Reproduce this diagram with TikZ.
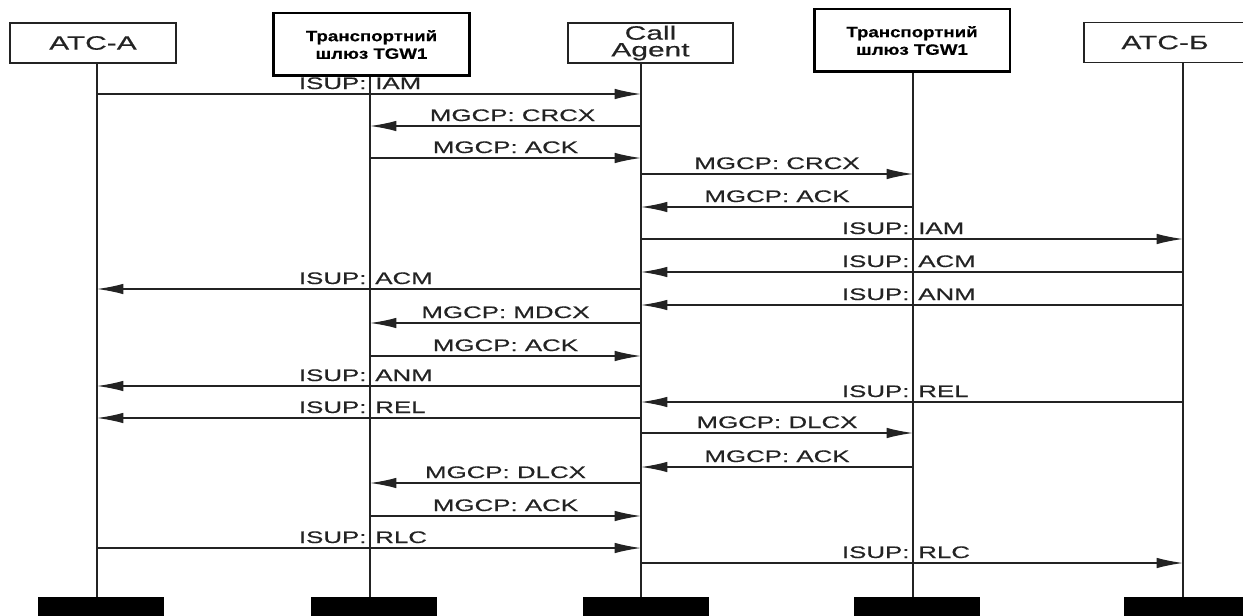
\documentclass[tikz,border=0pt]{standalone}
\usepackage{fontspec}
\setmainfont{Liberation Sans}
\newfontfamily\widefont[FakeStretch=1.55, FakeBold=0.4]{Liberation Sans}
\newfontfamily\gatefont[FakeStretch=1.25, FakeBold=0.6]{Liberation Sans Bold}
\usetikzlibrary{arrows.meta,positioning,calc}
\definecolor{inkgray}{RGB}{35, 35, 35}
\definecolor{barblack}{RGB}{0, 0, 0}

\begin{document}
\begin{tikzpicture}[
  x=0.02cm, y=-0.02cm,
  >={Latex[length=15pt,width=6pt]},
  entity/.style={
    draw=inkgray,
    line width=1.1pt,
    minimum height=0.8cm,
    inner sep=0pt,
    align=center,
    text=inkgray,
    font=\widefont\fontsize{11}{9.5}\selectfont
  },
  gateway/.style={
    draw=barblack,
    line width=1.7pt,
    minimum width=3.92cm,
    minimum height=1.26cm,
    inner sep=0pt,
    align=center,
    font=\gatefont\fontsize{8.5}{10}\selectfont
  },
  lifeline/.style={draw=inkgray, line width=1.1pt},
  msg/.style={->, draw=inkgray, line width=0.85pt},
  msgtext/.style={
    anchor=base,
    yshift=0.1cm,
    inner sep=0pt,
    text=inkgray,
    font=\widefont\fontsize{9.5}{11}\selectfont
  },
  endbar/.style={fill=barblack, minimum width=2.52cm, minimum height=0.4cm, inner sep=0pt}
]

  \useasboundingbox (0,0) rectangle (1243,615);
  \clip (0,0) rectangle (1243,615);

  % Header boxes
  \node[entity, minimum width=3.32cm] (atca) at (93,43) {АТС-А};
  \node[gateway] (tgw1) at (371.5,44.5) {Транспортний\\шлюз TGW1};
  \node[entity, minimum width=3.3cm] (ca) at (650.5,43) {Call\\Agent};
  \node[gateway] (tgw2) at (912,40.5) {Транспортний\\шлюз TGW1};
  \node[entity, minimum width=3.24cm] (atcb) at (1165,42.5) {АТС-Б};

  % Lifeline positions
  \coordinate (la) at (97,0);
  \coordinate (lt1) at (370,0);
  \coordinate (lc) at (641,0);
  \coordinate (lt2) at (913,0);
  \coordinate (lb) at (1183,0);

  % Terminating bars
  \node[endbar] (atcaend) at (101,607) {};
  \node[endbar] (tgw1end) at (374,607) {};
  \node[endbar] (caend) at (646,607) {};
  \node[endbar] (tgw2end) at (917,607) {};
  \node[endbar] (atcbend) at (1187,607) {};

  \draw[lifeline] (la |- atca.south) -- (la |- atcaend.north);
  \draw[lifeline] (lt1 |- tgw1.south) -- (lt1 |- tgw1end.north);
  \draw[lifeline] (lc |- ca.south) -- (lc |- caend.north);
  \draw[lifeline] (lt2 |- tgw2.south) -- (lt2 |- tgw2end.north);
  \draw[lifeline] (lb |- atcb.south) -- (lb |- atcbend.north);

  % Call set-up
  \draw[msg] (la |- 0,94) -- (lc |- 0,94);
  \node[msgtext] (m1) at (lt1 |- 0,94) {\llap{ISUP:\kern2pt}\rlap{\kern3pt IAM}};
  \draw[msg] (lc |- 0,126) -- (lt1 |- 0,126) node[msgtext, midway, xshift=4pt] (m2) {MGCP: CRCX};
  \draw[msg] (lt1 |- 0,158) -- (lc |- 0,158) node[msgtext, midway] (m3) {MGCP: ACK};
  \draw[msg] (lc |- 0,174) -- (lt2 |- 0,174) node[msgtext, midway] (m4) {MGCP: CRCX};
  \draw[msg] (lt2 |- 0,207) -- (lc |- 0,207) node[msgtext, midway] (m5) {MGCP: ACK};
  \draw[msg] (lc |- 0,239) -- (lb |- 0,239);
  \node[msgtext] (m6) at (lt2 |- 0,239) {\llap{ISUP:\kern2pt}\rlap{\kern3pt IAM}};
  \draw[msg] (lb |- 0,272) -- (lc |- 0,272);
  \node[msgtext] (m7) at (lt2 |- 0,272) {\llap{ISUP:\kern2pt}\rlap{\kern3pt ACM}};
  \draw[msg] (lc |- 0,289) -- (la |- 0,289);
  \node[msgtext] (m8) at (lt1 |- 0,289) {\llap{ISUP:\kern2pt}\rlap{\kern3pt ACM}};
  \draw[msg] (lb |- 0,305) -- (lc |- 0,305);
  \node[msgtext] (m9) at (lt2 |- 0,305) {\llap{ISUP:\kern2pt}\rlap{\kern3pt ANM}};
  \draw[msg] (lc |- 0,323) -- (lt1 |- 0,323) node[msgtext, midway] (m10) {MGCP: MDCX};
  \draw[msg] (lt1 |- 0,356) -- (lc |- 0,356) node[msgtext, midway] (m11) {MGCP: ACK};
  \draw[msg] (lc |- 0,386) -- (la |- 0,386);
  \node[msgtext] (m12) at (lt1 |- 0,386) {\llap{ISUP:\kern2pt}\rlap{\kern3pt ANM}};

  % Call release
  \draw[msg] (lb |- 0,402) -- (lc |- 0,402);
  \node[msgtext] (m13) at (lt2 |- 0,402) {\llap{ISUP:\kern2pt}\rlap{\kern3pt REL}};
  \draw[msg] (lc |- 0,418) -- (la |- 0,418);
  \node[msgtext] (m14) at (lt1 |- 0,418) {\llap{ISUP:\kern2pt}\rlap{\kern3pt REL}};
  \draw[msg] (lc |- 0,433) -- (lt2 |- 0,433) node[msgtext, midway] (m15) {MGCP: DLCX};
  \draw[msg] (lt2 |- 0,467) -- (lc |- 0,467) node[msgtext, midway] (m16) {MGCP: ACK};
  \draw[msg] (lc |- 0,483) -- (lt1 |- 0,483) node[msgtext, midway] (m17) {MGCP: DLCX};
  \draw[msg] (lt1 |- 0,516) -- (lc |- 0,516) node[msgtext, midway] (m18) {MGCP: ACK};
  \draw[msg] (la |- 0,548) -- (lc |- 0,548);
  \node[msgtext] (m19) at (lt1 |- 0,548) {\llap{ISUP:\kern2pt}\rlap{\kern3pt RLC}};
  \draw[msg] (lc |- 0,563) -- (lb |- 0,563);
  \node[msgtext] (m20) at (lt2 |- 0,563) {\llap{ISUP:\kern2pt}\rlap{\kern3pt RLC}};

\end{tikzpicture}
\end{document}
